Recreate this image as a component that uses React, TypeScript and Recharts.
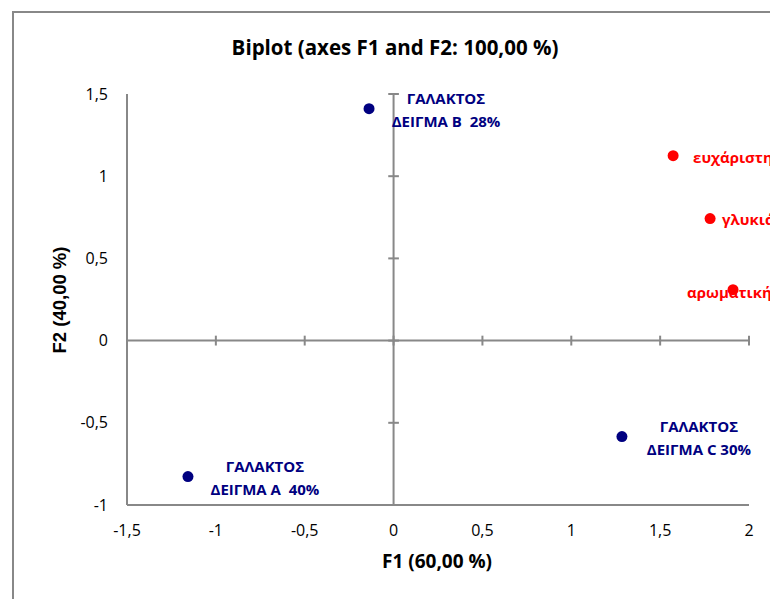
import React from 'react';
import { ScatterChart, Scatter, XAxis, YAxis, ReferenceLine } from 'recharts';

const sampleLine1 = ['ΓΑΛΑΚΤΟΣ', 'ΓΑΛΑΚΤΟΣ', 'ΓΑΛΑΚΤΟΣ'];
const sampleLine2 = ['ΔΕΙΓΜΑ Α  40%', 'ΔΕΙΓΜΑ Β  28%', 'ΔΕΙΓΜΑ C 30%'];
const sampleF1 = [-1.157, -0.138, 1.285];
const sampleF2 = [-0.827, 1.411, -0.584];

const attrNames = ['ευχάριστη', 'γλυκιά', 'αρωματική'];
const attrF1 = [1.573, 1.781, 1.91];
const attrF2 = [1.125, 0.742, 0.31];

const xTicks = [-1.5, -1, -0.5, 0, 0.5, 1, 1.5, 2];
const yTicks = [-1, -0.5, 0, 0.5, 1, 1.5];

const title = 'Biplot (axes F1 and F2: 100,00 %)';
const xTitle = 'F1 (60,00 %)';
const yTitle = 'F2 (40,00 %)';

const samples = sampleF1.map((x, i) => ({ x, y: sampleF2[i], l1: sampleLine1[i], l2: sampleLine2[i] }));
const attrs = attrF1.map((x, i) => ({ x, y: attrF2[i], name: attrNames[i], idx: i }));

const NAVY = '#000080';
const RED = '#ff0000';
const GRAY = '#888888';
const FONT = "'Open Sans', sans-serif";

const attrLabelOffsets = [
  { dx: 20, dy: 1 },
  { dx: 12, dy: 0 },
  { dx: -46, dy: 2 },
];

const fmt = (v: number) => String(v).replace('.', ',');

const SampleShape = (props: any) => {
  const { cx, cy, payload } = props;
  return (
    <g>
      <circle cx={cx} cy={cy} r={5.5} fill={NAVY} />
      <text x={cx + 77} y={cy - 11} textAnchor="middle" dominantBaseline="central" fill={NAVY}
        fontFamily={FONT} fontWeight="bold" fontSize={15} style={{ whiteSpace: 'pre' }}>{payload.l1}</text>
      <text x={cx + 77} y={cy + 12} textAnchor="middle" dominantBaseline="central" fill={NAVY}
        fontFamily={FONT} fontWeight="bold" fontSize={15} style={{ whiteSpace: 'pre' }}>{payload.l2}</text>
    </g>
  );
};

const AttrShape = (props: any) => {
  const { cx, cy, payload } = props;
  const o = attrLabelOffsets[payload.idx] || { dx: 12, dy: 0 };
  return (
    <g>
      <circle cx={cx} cy={cy} r={5.5} fill={RED} />
      <text x={cx + o.dx} y={cy + o.dy} textAnchor="start" dominantBaseline="central" fill={RED}
        fontFamily={FONT} fontWeight="bold" fontSize={15}>{payload.name}</text>
    </g>
  );
};

export default function App() {
  const tickStyle = { fill: '#000', fontFamily: FONT, fontSize: 16 };
  return (
    <div style={{ position: 'fixed', left: 0, top: 0, width: 770, height: 599, overflow: 'hidden', background: '#fff' }}>
      <div style={{ position: 'absolute', left: 12, top: 11, width: 800, height: 700, borderLeft: `2px solid ${GRAY}`, borderTop: `2px solid ${GRAY}`, boxSizing: 'border-box' }} />
      <div style={{ position: 'absolute', left: 0, top: 0 }}>
        <ScatterChart width={770} height={599} margin={{ top: 94, right: 21, left: 67, bottom: 34 }} style={{ overflow: 'visible' }}>
          <XAxis type="number" dataKey="x" domain={[-1.5, 2]} ticks={xTicks} tickFormatter={fmt}
            height={60} tickLine={false} tickSize={0} tickMargin={20} tick={tickStyle}
            axisLine={{ stroke: GRAY, strokeWidth: 2 }} interval={0} />
          <XAxis xAxisId="top" orientation="top" type="number" domain={[-1.5, 2]} height={0}
            tick={false} tickLine={false} axisLine={{ stroke: GRAY, strokeWidth: 2 }} />
          <YAxis type="number" dataKey="y" domain={[-1, 1.5]} ticks={yTicks} tickFormatter={fmt}
            width={60} tickLine={false} tickSize={0} tickMargin={19} tick={tickStyle}
            axisLine={{ stroke: GRAY, strokeWidth: 2 }} interval={0} />
          <YAxis yAxisId="right" orientation="right" type="number" domain={[-1, 1.5]} width={0}
            tick={false} tickLine={false} axisLine={{ stroke: GRAY, strokeWidth: 2 }} />
          <ReferenceLine y={0} stroke={GRAY} strokeWidth={2} />
          <ReferenceLine x={0} stroke={GRAY} strokeWidth={2} />
          {xTicks.map((v) => (
            <ReferenceLine key={'xt' + v} segment={[{ x: v, y: -0.03 }, { x: v, y: 0.03 }]} stroke={GRAY} strokeWidth={2} />
          ))}
          {yTicks.map((v) => (
            <ReferenceLine key={'yt' + v} segment={[{ x: -0.03, y: v }, { x: 0.03, y: v }]} stroke={GRAY} strokeWidth={2} />
          ))}
          <Scatter data={samples} fill={NAVY} shape={SampleShape} isAnimationActive={false} />
          <Scatter data={attrs} fill={RED} shape={AttrShape} isAnimationActive={false} />
        </ScatterChart>
      </div>
      <div style={{ position: 'absolute', left: 395, top: 47, transform: 'translate(-50%,-50%)', whiteSpace: 'nowrap', fontFamily: FONT, fontWeight: 'bold', fontSize: 20.5, lineHeight: 1, color: '#000' }}>{title}</div>
      <div style={{ position: 'absolute', left: 437, top: 561, transform: 'translate(-50%,-50%)', whiteSpace: 'nowrap', fontFamily: FONT, fontWeight: 'bold', fontSize: 19, lineHeight: 1, color: '#000' }}>{xTitle}</div>
      <div style={{ position: 'absolute', left: 60, top: 300, transform: 'translate(-50%,-50%) rotate(-90deg)', whiteSpace: 'nowrap', fontFamily: "'Liberation Sans', Arial, sans-serif", fontWeight: 'bold', fontSize: 18.5, lineHeight: 1, color: '#000' }}>{yTitle}</div>
    </div>
  );
}
